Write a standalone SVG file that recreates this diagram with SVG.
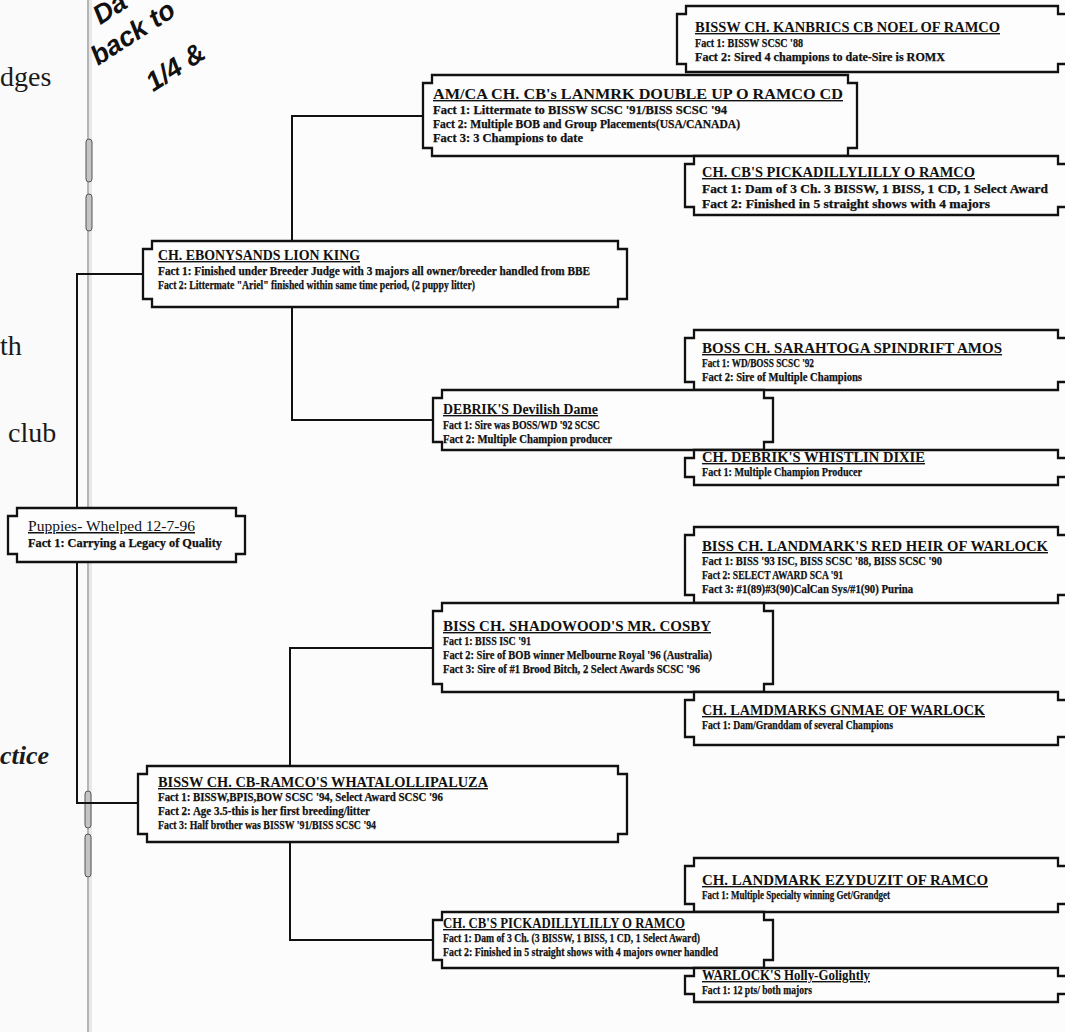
<svg xmlns="http://www.w3.org/2000/svg" width="1065" height="1032" viewBox="0 0 1065 1032">
<style>
.box{fill:#fdfdfd;stroke:#111;stroke-width:2.3}
.ln{fill:none;stroke:#111;stroke-width:2}
.t{font-family:"Liberation Serif","Times New Roman",serif;font-weight:bold;font-size:14px;fill:#111;text-decoration:underline}
.f{font-family:"Liberation Serif","Times New Roman",serif;font-weight:bold;font-size:11.5px;fill:#111;stroke:#111;stroke-width:0.25}
.pg{font-family:"Liberation Serif","Times New Roman",serif;font-size:28px;fill:#1a1a1a}
.rot{font-family:"Liberation Sans",Arial,sans-serif;font-weight:bold;font-style:italic;font-size:27px;fill:#111}
</style>
<rect width="1065" height="1032" fill="#fcfcfc"/>
<rect width="88" height="1032" fill="#fafafa"/>
<!-- facing page fragments -->
<text class="pg" x="0" y="86">dges</text>
<text class="pg" x="0" y="355">th</text>
<text class="pg" x="8" y="442">club</text>
<text class="pg" x="0" y="764" style="font-style:italic;font-weight:bold;font-size:26px">ctice</text>
<!-- fold and staples -->
<line x1="88" y1="0" x2="88" y2="1032" stroke="#b5b5b5" stroke-width="2"/>
<line x1="90.5" y1="0" x2="90.5" y2="1032" stroke="#e8e8e8" stroke-width="3"/>
<g fill="#c4c4c4" stroke="#555" stroke-width="1">
<rect x="86" y="139" width="6" height="43" rx="3"/>
<rect x="86" y="194" width="6" height="37" rx="3"/>
<rect x="85" y="791" width="6" height="37" rx="3"/>
<rect x="85" y="834" width="6" height="43" rx="3"/>
</g>
<!-- rotated heading fragment -->
<g transform="translate(98,66) rotate(-33)">
<text class="rot" x="24" y="-33">Da</text>
<text class="rot" x="0" y="0">back to</text>
<text class="rot" x="32" y="52">1/4 &amp;</text>
</g>
<!-- connectors -->
<g id="connectors">
<path class="ln" d="M77,508 V274 H143"/>
<path class="ln" d="M77,562 V803 H138"/>
<path class="ln" d="M292,241 V116 H423"/>
<path class="ln" d="M292,307 V420 H433"/>
<path class="ln" d="M290,766 V648 H433"/>
<path class="ln" d="M290,842 V940 H433"/>
</g>
<g id="noel">
<path class="box" d="M686,6 H1058 V14 H1067 V64 H1058 V72 H686 V64 H677 V14 H686 Z"/>
<text class="t" x="695" y="32" textLength="305" lengthAdjust="spacingAndGlyphs">BISSW CH. KANBRICS CB NOEL OF RAMCO</text>
<text class="f" x="695" y="47" textLength="108" lengthAdjust="spacingAndGlyphs">Fact 1: BISSW SCSC '88</text>
<text class="f" x="695" y="61" textLength="250" lengthAdjust="spacingAndGlyphs">Fact 2: Sired 4 champions to date-Sire is ROMX</text>
</g>
<g id="lanmrk">
<path class="box" d="M432,75 H848 V83 H857 V148 H848 V156 H432 V148 H423 V83 H432 Z"/>
<text class="t" x="433" y="99" textLength="410" lengthAdjust="spacingAndGlyphs">AM/CA CH. CB's  LANMRK DOUBLE UP O RAMCO CD</text>
<text class="f" x="433" y="114" textLength="294" lengthAdjust="spacingAndGlyphs">Fact 1: Littermate to BISSW SCSC '91/BISS SCSC '94</text>
<text class="f" x="433" y="128" textLength="307" lengthAdjust="spacingAndGlyphs">Fact 2: Multiple BOB and Group Placements(USA/CANADA)</text>
<text class="f" x="433" y="142" textLength="150" lengthAdjust="spacingAndGlyphs">Fact 3: 3 Champions to date</text>
</g>
<g id="pick1">
<path class="box" d="M694,156 H1058 V164 H1067 V207 H1058 V215 H694 V207 H685 V164 H694 Z"/>
<text class="t" x="702" y="177" textLength="273" lengthAdjust="spacingAndGlyphs">CH. CB'S PICKADILLYLILLY O RAMCO</text>
<text class="f" x="702" y="193" textLength="346" lengthAdjust="spacingAndGlyphs">Fact 1: Dam of 3 Ch. 3 BISSW, 1 BISS, 1 CD, 1 Select Award</text>
<text class="f" x="702" y="208" textLength="288" lengthAdjust="spacingAndGlyphs">Fact 2: Finished in 5 straight shows with 4 majors</text>
</g>
<g id="lionking">
<path class="box" d="M152,241 H618 V249 H627 V299 H618 V307 H152 V299 H143 V249 H152 Z"/>
<text class="t" x="158" y="260" textLength="202" lengthAdjust="spacingAndGlyphs">CH. EBONYSANDS LION KING</text>
<text class="f" x="158" y="275" textLength="432" lengthAdjust="spacingAndGlyphs">Fact 1: Finished under Breeder Judge with 3 majors all owner/breeder handled from BBE</text>
<text class="f" x="158" y="289" textLength="317" lengthAdjust="spacingAndGlyphs">Fact 2: Littermate "Ariel" finished within same time period, (2 puppy litter)</text>
</g>
<g id="sarahtoga">
<path class="box" d="M694,330 H1058 V338 H1067 V382 H1058 V390 H694 V382 H685 V338 H694 Z"/>
<text class="t" x="702" y="353" textLength="300" lengthAdjust="spacingAndGlyphs">BOSS CH. SARAHTOGA SPINDRIFT AMOS</text>
<text class="f" x="702" y="367" textLength="112" lengthAdjust="spacingAndGlyphs">Fact 1: WD/BOSS SCSC '92</text>
<text class="f" x="702" y="381" textLength="160" lengthAdjust="spacingAndGlyphs">Fact 2: Sire of Multiple Champions</text>
</g>
<g id="devilish">
<path class="box" d="M442,390 H764 V398 H773 V442 H764 V450 H442 V442 H433 V398 H442 Z"/>
<text class="t" x="443" y="414" textLength="155" lengthAdjust="spacingAndGlyphs">DEBRIK'S Devilish Dame</text>
<text class="f" x="443" y="429" textLength="157" lengthAdjust="spacingAndGlyphs">Fact 1: Sire was BOSS/WD '92 SCSC</text>
<text class="f" x="443" y="443" textLength="169" lengthAdjust="spacingAndGlyphs">Fact 2: Multiple Champion producer</text>
</g>
<g id="dixie">
<path class="box" d="M694,450 H1058 V458 H1067 V477 H1058 V485 H694 V477 H685 V458 H694 Z"/>
<text class="t" x="702" y="462" textLength="223" lengthAdjust="spacingAndGlyphs">CH. DEBRIK'S WHISTLIN DIXIE</text>
<text class="f" x="702" y="476" textLength="160" lengthAdjust="spacingAndGlyphs">Fact 1: Multiple Champion Producer</text>
</g>
<g id="redheir">
<path class="box" d="M694,527 H1058 V535 H1067 V595 H1058 V603 H694 V595 H685 V535 H694 Z"/>
<text class="t" x="702" y="551" textLength="346" lengthAdjust="spacingAndGlyphs">BISS CH. LANDMARK'S RED HEIR OF WARLOCK</text>
<text class="f" x="702" y="565" textLength="240" lengthAdjust="spacingAndGlyphs">Fact 1: BISS  '93 ISC, BISS SCSC '88, BISS SCSC '90</text>
<text class="f" x="702" y="579" textLength="141" lengthAdjust="spacingAndGlyphs">Fact 2: SELECT AWARD SCA '91</text>
<text class="f" x="702" y="593" textLength="211" lengthAdjust="spacingAndGlyphs">Fact 3: #1(89)#3(90)CalCan Sys/#1(90) Purina</text>
</g>
<g id="cosby">
<path class="box" d="M442,603 H764 V611 H773 V684 H764 V692 H442 V684 H433 V611 H442 Z"/>
<text class="t" x="443" y="631" textLength="268" lengthAdjust="spacingAndGlyphs">BISS CH. SHADOWOOD'S MR. COSBY</text>
<text class="f" x="443" y="645" textLength="88" lengthAdjust="spacingAndGlyphs">Fact 1: BISS ISC '91</text>
<text class="f" x="443" y="659" textLength="269" lengthAdjust="spacingAndGlyphs">Fact 2: Sire of  BOB winner Melbourne Royal '96 (Australia)</text>
<text class="f" x="443" y="673" textLength="257" lengthAdjust="spacingAndGlyphs">Fact 3: Sire of #1 Brood Bitch, 2  Select Awards SCSC '96</text>
</g>
<g id="gnmae">
<path class="box" d="M694,692 H1058 V700 H1067 V737 H1058 V745 H694 V737 H685 V700 H694 Z"/>
<text class="t" x="702" y="715" textLength="283" lengthAdjust="spacingAndGlyphs">CH. LAMDMARKS GNMAE OF WARLOCK</text>
<text class="f" x="702" y="729" textLength="191" lengthAdjust="spacingAndGlyphs">Fact 1: Dam/Granddam of several Champions</text>
</g>
<g id="puppies">
<path class="box" d="M17,508 H236 V516 H245 V554 H236 V562 H17 V554 H8 V516 H17 Z"/>
<text class="t" x="28" y="531" textLength="167" lengthAdjust="spacingAndGlyphs" style="font-weight:normal;font-size:15px">Puppies- Whelped 12-7-96</text>
<text class="f" x="28" y="547" textLength="194" lengthAdjust="spacingAndGlyphs">Fact 1: Carrying a Legacy of Quality</text>
</g>
<g id="whatalollipaluza">
<path class="box" d="M147,766 H618 V774 H627 V834 H618 V842 H147 V834 H138 V774 H147 Z"/>
<text class="t" x="158" y="787" textLength="330" lengthAdjust="spacingAndGlyphs">BISSW CH. CB-RAMCO'S WHATALOLLIPALUZA</text>
<text class="f" x="158" y="801" textLength="285" lengthAdjust="spacingAndGlyphs">Fact 1: BISSW,BPIS,BOW SCSC '94, Select Award SCSC '96</text>
<text class="f" x="158" y="815" textLength="212" lengthAdjust="spacingAndGlyphs">Fact 2: Age 3.5-this is her first breeding/litter</text>
<text class="f" x="158" y="829" textLength="218" lengthAdjust="spacingAndGlyphs">Fact 3: Half brother was BISSW '91/BISS SCSC '94</text>
</g>
<g id="ezyduzit">
<path class="box" d="M694,858 H1058 V866 H1067 V904 H1058 V912 H694 V904 H685 V866 H694 Z"/>
<text class="t" x="702" y="885" textLength="286" lengthAdjust="spacingAndGlyphs">CH. LANDMARK EZYDUZIT OF RAMCO</text>
<text class="f" x="702" y="899" textLength="188" lengthAdjust="spacingAndGlyphs">Fact 1: Multiple Specialty winning Get/Grandget</text>
</g>
<g id="pick2">
<path class="box" d="M442,912 H764 V920 H773 V960 H764 V968 H442 V960 H433 V920 H442 Z"/>
<text class="t" x="443" y="928" textLength="242" lengthAdjust="spacingAndGlyphs">CH. CB'S PICKADILLYLILLY O RAMCO</text>
<text class="f" x="443" y="942" textLength="257" lengthAdjust="spacingAndGlyphs">Fact 1: Dam of 3 Ch. (3 BISSW, 1 BISS, 1 CD, 1 Select Award)</text>
<text class="f" x="443" y="956" textLength="275" lengthAdjust="spacingAndGlyphs">Fact 2: Finished in 5 straight shows with 4 majors owner handled</text>
</g>
<g id="holly">
<path class="box" d="M694,968 H1058 V976 H1067 V994 H1058 V1002 H694 V994 H685 V976 H694 Z"/>
<text class="t" x="702" y="980" textLength="168" lengthAdjust="spacingAndGlyphs">WARLOCK'S Holly-Golightly</text>
<text class="f" x="702" y="994" textLength="110" lengthAdjust="spacingAndGlyphs">Fact 1: 12 pts/ both majors</text>
</g>
</svg>
